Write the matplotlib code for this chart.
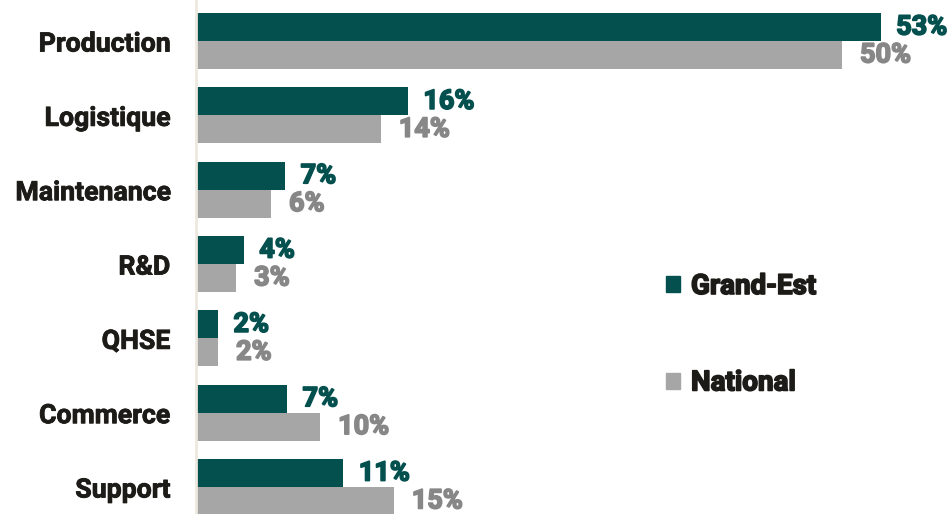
import matplotlib.pyplot as plt
import matplotlib.patheffects as pe
import numpy as np
from matplotlib.patches import Patch

categories = ["Production", "Logistique", "Maintenance", "R&D", "QHSE", "Commerce", "Support"]
grand_est = [53, 16.4, 6.9, 3.7, 1.7, 7.05, 11.4]
national = [50, 14.3, 5.8, 3.1, 1.7, 9.6, 15.3]
series_names = ["Grand-Est", "National"]

GE_COLOR = "#03504f"
NAT_COLOR = "#a6a6a6"
NAT_TEXT = "#878787"
TXT = "#1c1b17"

plt.rcParams['font.family'] = ['Roboto', 'DejaVu Sans']

fig = plt.figure(figsize=(9.53, 5.14), dpi=100)
ax = fig.add_axes([196 / 953, 0, 1 - 196 / 953, 1])

y = np.arange(len(categories))
h = 0.375
ax.barh(y - h / 2, grand_est, height=h, color=GE_COLOR)
ax.barh(y + h / 2, national, height=h, color=NAT_COLOR)

for i in range(len(categories)):
    ax.text(grand_est[i] + 1.2, y[i] - h / 2, f"{grand_est[i]:.0f}%", va="center", ha="left",
            fontsize=19.5, fontweight="bold", color=GE_COLOR,
            path_effects=[pe.withStroke(linewidth=1.2, foreground=GE_COLOR)])
    ax.text(national[i] + 1.4, y[i] + h / 2, f"{national[i]:.0f}%", va="center", ha="left",
            fontsize=19.5, fontweight="bold", color=NAT_TEXT,
            path_effects=[pe.withStroke(linewidth=1.2, foreground=NAT_TEXT)])

ax.set_xlim(0, 58.6)
ax.set_ylim(6.363, -0.552)
ax.set_yticks(y)
ax.set_yticklabels(categories, fontsize=19.2, fontweight="bold", color=TXT)
for t in ax.get_yticklabels():
    t.set_path_effects([pe.withStroke(linewidth=0.6, foreground=TXT)])
ax.tick_params(axis="y", length=0, pad=18.5)
ax.set_xticks([])
for s in ["top", "right", "bottom"]:
    ax.spines[s].set_visible(False)
ax.spines["left"].set_color("#ece8df")
ax.spines["left"].set_linewidth(2)

handles = [Patch(color=GE_COLOR), Patch(color=NAT_COLOR)]
leg = fig.legend(handles, series_names, loc="upper left", bbox_to_anchor=(666 / 953, 1 - 273 / 514),
                 frameon=False, prop={"size": 20, "weight": "bold"}, labelcolor=TXT,
                 handlelength=0.52, handleheight=0.52, handletextpad=0.38, labelspacing=2.5,
                 borderpad=0, borderaxespad=0)
for t in leg.get_texts():
    t.set_path_effects([pe.withStroke(linewidth=1.2, foreground=TXT)])

fig.savefig("out.png", dpi=100)
